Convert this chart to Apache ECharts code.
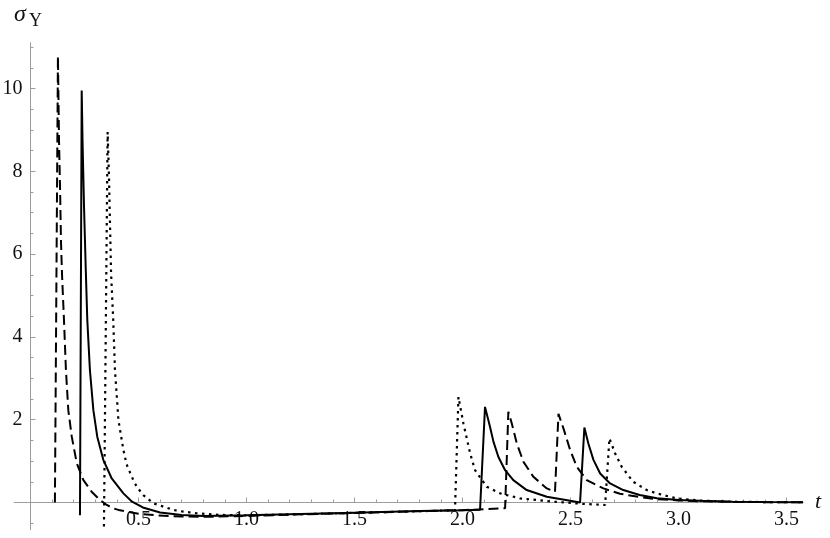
<!DOCTYPE html>
<html><head><meta charset="utf-8">
<script src="https://cdn.jsdelivr.net/npm/echarts@6/dist/echarts.min.js"></script>
<style>html,body{margin:0;padding:0;background:#fff}#c{width:830px;height:538px}</style>
</head><body><div id="c"></div>
<script>
const solidData = [
[0.229,-0.31],[0.237,9.95],[0.241,8.7],[0.248,7.1],[0.256,5.6],[0.263,4.4],[0.275,3.2],[0.291,2.23],[0.309,1.59],[0.337,1.03],[0.376,0.58],[0.43,0.22],[0.47,0.02],[0.52,-0.12],[0.6,-0.24],[0.7,-0.30],[0.8,-0.325],[1.0,-0.31],[1.2,-0.285],[1.5,-0.245],[1.8,-0.205],[2.0,-0.185],[2.081,-0.175],
[2.104,2.31],[2.127,1.83],[2.143,1.47],[2.166,1.10],[2.197,0.78],[2.235,0.54],[2.297,0.30],[2.39,0.14],[2.498,0.04],[2.544,0.0],
[2.564,1.81],[2.582,1.43],[2.606,1.03],[2.637,0.70],[2.683,0.46],[2.744,0.30],[2.82,0.18],[2.9,0.10],[3.0,0.06],[3.1,0.04],[3.25,0.02],[3.4,0.01],[3.576,0.005]
];
const dashedData = [
[0.113,0.0],[0.127,10.78],[0.132,8.74],[0.137,7.54],[0.141,6.33],[0.146,5.5],[0.155,4.40],[0.164,3.20],[0.175,2.23],[0.191,1.59],[0.214,0.95],[0.245,0.54],[0.283,0.26],[0.322,0.06],[0.353,-0.06],[0.383,-0.14],[0.414,-0.19],[0.5,-0.27],[0.584,-0.31],[0.7,-0.34],[0.831,-0.345],[1.0,-0.325],[1.2,-0.295],[1.5,-0.255],[1.8,-0.21],[2.0,-0.185],[2.1,-0.16],[2.197,-0.14],
[2.212,2.19],[2.228,1.91],[2.251,1.43],[2.282,0.98],[2.328,0.62],[2.39,0.34],[2.428,0.26],
[2.444,2.14],[2.467,1.79],[2.498,1.27],[2.529,0.86],[2.575,0.54],[2.652,0.34],[2.729,0.21],[2.822,0.13],[2.9,0.08],[3.0,0.05],[3.1,0.03],[3.25,0.015],[3.4,0.008],[3.576,0.003]
];
const dottedData = [
[0.34,-0.58],[0.357,8.95],[0.363,7.94],[0.368,6.74],[0.373,5.54],[0.383,4.40],[0.391,3.20],[0.407,1.99],[0.43,1.27],[0.445,0.92],[0.461,0.72],[0.476,0.54],[0.492,0.38],[0.522,0.18],[0.569,-0.02],[0.615,-0.10],[0.661,-0.18],[0.707,-0.22],[0.769,-0.26],[0.877,-0.30],[1.0,-0.31],[1.2,-0.29],[1.5,-0.25],[1.8,-0.21],[1.965,-0.19],
[1.981,2.55],[2.004,1.91],[2.035,1.19],[2.058,0.78],[2.112,0.38],[2.174,0.22],[2.266,0.10],[2.42,0.02],[2.55,-0.03],[2.66,-0.06],
[2.68,1.55],[2.706,1.19],[2.737,0.86],[2.79,0.50],[2.853,0.30],[2.899,0.22],[2.99,0.10],[3.1,0.045],[3.25,0.02],[3.4,0.01],[3.576,0.005]
];
const xTickLabels = [0.5,1.0,1.5,2.0,2.5,3.0,3.5];
const yTickLabels = [2,4,6,8,10];

const xMinorTicks = [];
for (let i = 1; i <= 35; i++) { if (i % 5) xMinorTicks.push(i / 10); }
const yMinorTicks = [];
for (let i = -1; i <= 22; i++) { if (i % 4 && i !== 0) yMinorTicks.push(i / 2); }

const serif = 'Liberation Serif, DejaVu Serif, serif';
const axisColor = '#9d9d9d';
const X_MIN = -0.075, X_MAX = 3.576, Y_MIN = -0.65, Y_MAX = 11.1;
const W = 830, H = 538;
const G = {left: 14.3, right: 27, top: 43, bottom: 8.6};
// shift the axes so they cross at (0,0), like on-zero axes
const xShift = (0 - X_MIN) / (X_MAX - X_MIN) * (W - G.left - G.right);
const yShift = (0 - Y_MIN) / (Y_MAX - Y_MIN) * (H - G.top - G.bottom);

function xAx(major) {
  return {type: 'value', min: X_MIN, max: X_MAX, position: 'bottom', offset: -yShift,
    axisLine: {show: true, onZero: false, lineStyle: {color: axisColor, width: 1}},
    axisTick: {show: true, inside: true, length: major ? 5 : 3, customValues: major ? xTickLabels : xMinorTicks, lineStyle: {color: axisColor}},
    axisLabel: major ? {show: true, customValues: xTickLabels, formatter: v => v.toFixed(1), fontFamily: serif, fontSize: 20, color: '#111', margin: 7} : {show: false},
    splitLine: {show: false},
    name: major ? 't' : '', nameLocation: 'end', nameGap: 12,
    nameTextStyle: {fontFamily: serif, fontStyle: 'italic', fontSize: 22, color: '#111'}};
}
function yAx(major) {
  return {type: 'value', min: Y_MIN, max: Y_MAX, position: 'left', offset: -xShift,
    axisLine: {show: true, onZero: false, lineStyle: {color: axisColor, width: 1}},
    axisTick: {show: true, inside: true, length: major ? 5 : 3, customValues: major ? yTickLabels : yMinorTicks, lineStyle: {color: axisColor}},
    axisLabel: major ? {show: true, customValues: yTickLabels, fontFamily: serif, fontSize: 20, color: '#111', margin: 8} : {show: false},
    splitLine: {show: false}};
}

const chart = echarts.init(document.getElementById('c'), null, {renderer: 'canvas'});
chart.setOption({
  animation: false,
  backgroundColor: '#fff',
  grid: Object.assign({containLabel: false, outerBoundsMode: 'none'}, G),
  xAxis: [xAx(true), xAx(false)],
  yAxis: [yAx(true), yAx(false)],
  graphic: [
    {type: 'text', left: 14, top: 3, style: {text: 'σ', fontFamily: serif, fontStyle: 'italic', fontSize: 24, fill: '#111'}},
    {type: 'text', left: 29, top: 12, style: {text: 'Υ', fontFamily: serif, fontSize: 18, fill: '#111'}}
  ],
  series: [
    {type: 'line', xAxisIndex: 0, yAxisIndex: 0, data: dashedData, symbol: 'none', showSymbol: false, silent: true,
     lineStyle: {color: '#000', width: 2, type: [10, 5]}, z: 3},
    {type: 'line', xAxisIndex: 0, yAxisIndex: 0, data: dottedData, symbol: 'none', showSymbol: false, silent: true,
     lineStyle: {color: '#000', width: 2.2, type: [2.5, 4.5]}, z: 3},
    {type: 'line', xAxisIndex: 0, yAxisIndex: 0, data: solidData, symbol: 'none', showSymbol: false, silent: true,
     lineStyle: {color: '#000', width: 2}, z: 4}
  ]
});
</script>
</body></html>
